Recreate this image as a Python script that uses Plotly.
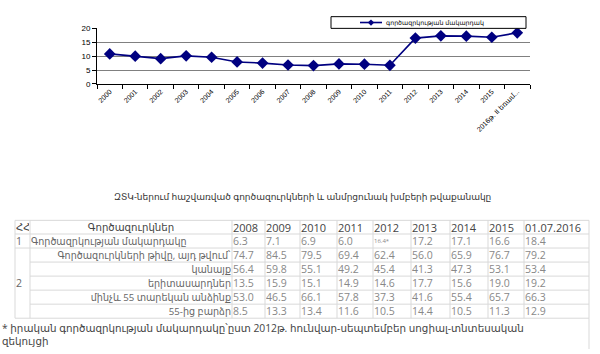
import plotly.graph_objects as go

# ---- chart data ----
years = ["2000", "2001", "2002", "2003", "2004", "2005", "2006", "2007", "2008",
         "2009", "2010", "2011", "2012", "2013", "2014", "2015", "2016թ. II եռամ..."]
rate = [10.8, 10.0, 9.1, 10.1, 9.6, 7.9, 7.5, 6.8, 6.6, 7.2, 7.1, 6.7,
        16.5, 17.3, 17.2, 16.8, 18.4]
series_name = "գործազրկության մակարդակ"

# ---- table data ----
table_title = "ԶՏԿ-ներում հաշվառված գործազուրկների և անմրցունակ խմբերի թվաքանակը"
col_headers = ["ՀՀ", "Գործազուրկներ", "2008", "2009", "2010", "2011", "2012",
               "2013", "2014", "2015", "01.07.2016"]
row_labels = ["Գործազրկության մակարդակը",
              "Գործազուրկների թիվը, այդ թվում՝",
              "կանայք",
              "երիտասարդներ",
              "մինչև 55 տարեկան անձինք",
              "55-ից բարձր"]
v2008 = ["6.3", "74.7", "56.4", "13.5", "53.0", "8.5"]
v2009 = ["7.1", "84.5", "59.8", "15.9", "46.5", "13.3"]
v2010 = ["6.9", "79.5", "55.1", "15.1", "66.1", "13.4"]
v2011 = ["6.0", "69.4", "49.2", "14.9", "57.8", "11.6"]
v2012 = ["16.4*", "62.4", "45.4", "14.6", "37.3", "10.5"]
v2013 = ["17.2", "56.0", "41.3", "17.7", "41.6", "14.4"]
v2014 = ["17.1", "65.9", "47.3", "15.6", "55.4", "10.5"]
v2015 = ["16.6", "76.7", "53.1", "19.0", "65.7", "11.3"]
v2016 = ["18.4", "79.2", "53.4", "19.2", "66.3", "12.9"]
footnote = ("* իրական գործազրկության մակարդակը՝ըստ 2012թ. հունվար-սեպտեմբեր սոցիալ-տնտեսական"
            "<br>զեկույցի")

# table geometry (pixels)
col_widths = [15, 202, 33, 35, 37, 36, 38, 39, 38, 36, 65]
row_heights = [14, 14.4, 14.4, 14.4, 14.4, 14.4, 14.4]   # header + 6 rows
TABLE_LEFT, TABLE_TOP = 15, 222

W, H = 600, 354
FONT = "Open Sans, DejaVu Sans, sans-serif"
GRID = "#d9d9d9"
NAVY = "#000080"

fig = go.Figure()
fig.add_trace(go.Scatter(
    x=years, y=rate, mode="lines+markers", name=series_name,
    line=dict(color=NAVY, width=1.6),
    marker=dict(symbol="diamond", size=9, color=NAVY),
    showlegend=False,
))


def px(v):
    return v / W


def py(v):
    return (H - v) / H


col_x = [TABLE_LEFT]
for w in col_widths:
    col_x.append(col_x[-1] + w)
row_y = [TABLE_TOP]
for h in row_heights:
    row_y.append(row_y[-1] + h)

shapes = []
annotations = []

# vertical borders
for x in col_x:
    shapes.append(dict(type="line", xref="paper", yref="paper",
                       x0=px(x), x1=px(x), y0=py(row_y[0]), y1=py(row_y[-1]),
                       line=dict(color=GRID, width=1)))
# horizontal borders (merged first column for rows 2-6)
for i, y in enumerate(row_y):
    x_start = col_x[0] if i <= 2 or i == len(row_y) - 1 else col_x[1]
    shapes.append(dict(type="line", xref="paper", yref="paper",
                       x0=px(x_start), x1=px(col_x[-1]), y0=py(y), y1=py(y),
                       line=dict(color=GRID, width=1)))
# right border continuing beside the footnote
shapes.append(dict(type="line", xref="paper", yref="paper",
                   x0=px(col_x[-1]), x1=px(col_x[-1]), y0=0, y1=py(row_y[-1]),
                   line=dict(color=GRID, width=1)))


def cell_text(text, ci, ri, align, size, color, span=1):
    y0, y1 = row_y[ri], row_y[ri + span]
    x0, x1 = col_x[ci], col_x[ci + 1]
    annotations.append(dict(text=text, x=px((x0 + x1) / 2), y=py((y0 + y1) / 2),
                            xref="paper", yref="paper", xanchor="center", yanchor="middle",
                            width=x1 - x0 - 2, height=(y1 - y0) - 2, align=align,
                            valign="middle", borderpad=0, showarrow=False,
                            font=dict(family=FONT, size=size, color=color)))


# header
for ci, hname in enumerate(col_headers):
    cell_text(hname, ci, 0, "center" if ci == 1 else "left", 11 if ci > 1 else 10.2, "#444")

# first column numbering (merged cell for group 2)
cell_text("1", 0, 1, "left", 10.5, "#666")
cell_text("2", 0, 2, "left", 10.5, "#666", span=5)

# row labels
for ri, lab in enumerate(row_labels):
    cell_text(lab, 1, ri + 1, "left" if ri == 0 else "right", 9.6, "#666")

# values
value_cols = [v2008, v2009, v2010, v2011, v2012, v2013, v2014, v2015, v2016]
for cj, col in enumerate(value_cols):
    for ri, val in enumerate(col):
        small = val.endswith("*")
        cell_text(val, cj + 2, ri + 1, "left", 6 if small else 10.5, "#888")

annotations.append(dict(text=table_title, x=px(302), y=py(198), xref="paper", yref="paper",
                        xanchor="center", yanchor="middle", showarrow=False,
                        font=dict(family=FONT, size=9, color="#333")))
annotations.append(dict(text=footnote, x=0, y=py(row_y[-1] + 1), xref="paper", yref="paper",
                        xanchor="left", yanchor="top", align="left", showarrow=False,
                        font=dict(family=FONT, size=10.3, color="#444")))

# legend box (drawn manually to match the compact Excel legend)
LEG = dict(x0=331, x1=526, y0=13, y1=25)
shapes.append(dict(type="rect", xref="paper", yref="paper",
                   x0=px(LEG["x0"]), x1=px(LEG["x1"]), y0=py(LEG["y1"]), y1=py(LEG["y0"]),
                   line=dict(color="#000", width=1), fillcolor="white", layer="above"))
ly = (LEG["y0"] + LEG["y1"]) / 2
shapes.append(dict(type="line", xref="paper", yref="paper",
                   x0=px(360), x1=px(382), y0=py(ly), y1=py(ly),
                   line=dict(color=NAVY, width=1.6), layer="above"))
dx, dy = 3.2 / W, 3.2 / H
cxp, cyp = px(371), py(ly)
shapes.append(dict(type="path", xref="paper", yref="paper", layer="above",
                   path=f"M {cxp - dx},{cyp} L {cxp},{cyp + dy} L {cxp + dx},{cyp} L {cxp},{cyp - dy} Z",
                   fillcolor=NAVY, line=dict(color=NAVY, width=0)))
annotations.append(dict(text=series_name, x=px(384), y=py(ly), xref="paper", yref="paper",
                        xanchor="left", yanchor="middle", showarrow=False,
                        font=dict(family="DejaVu Sans, sans-serif", size=6.3, color="#000")))

fig.update_layout(
    width=W, height=H, margin=dict(l=0, r=0, t=0, b=0),
    paper_bgcolor="white", plot_bgcolor="white",
    font=dict(family="Arial, DejaVu Sans, sans-serif", color="#000"),
    xaxis=dict(domain=[px(97), px(530)], type="category", range=[-0.5, len(years) - 0.5],
               tickangle=-45, tickson="boundaries", ticks="outside", ticklen=4,
               tickcolor="#000", showline=True, linecolor="#000", linewidth=1,
               showgrid=False, tickfont=dict(size=7, color="#000")),
    yaxis=dict(domain=[py(82), py(25)], range=[0, 20], dtick=5,
               ticks="outside", ticklen=4, tickcolor="#000",
               showline=True, linecolor="#000", linewidth=1,
               showgrid=True, gridcolor="#808080", gridwidth=1, zeroline=False,
               tickfont=dict(size=8, color="#000")),
    showlegend=False,
    shapes=shapes,
    annotations=annotations,
)

fig.write_html("out.html")
